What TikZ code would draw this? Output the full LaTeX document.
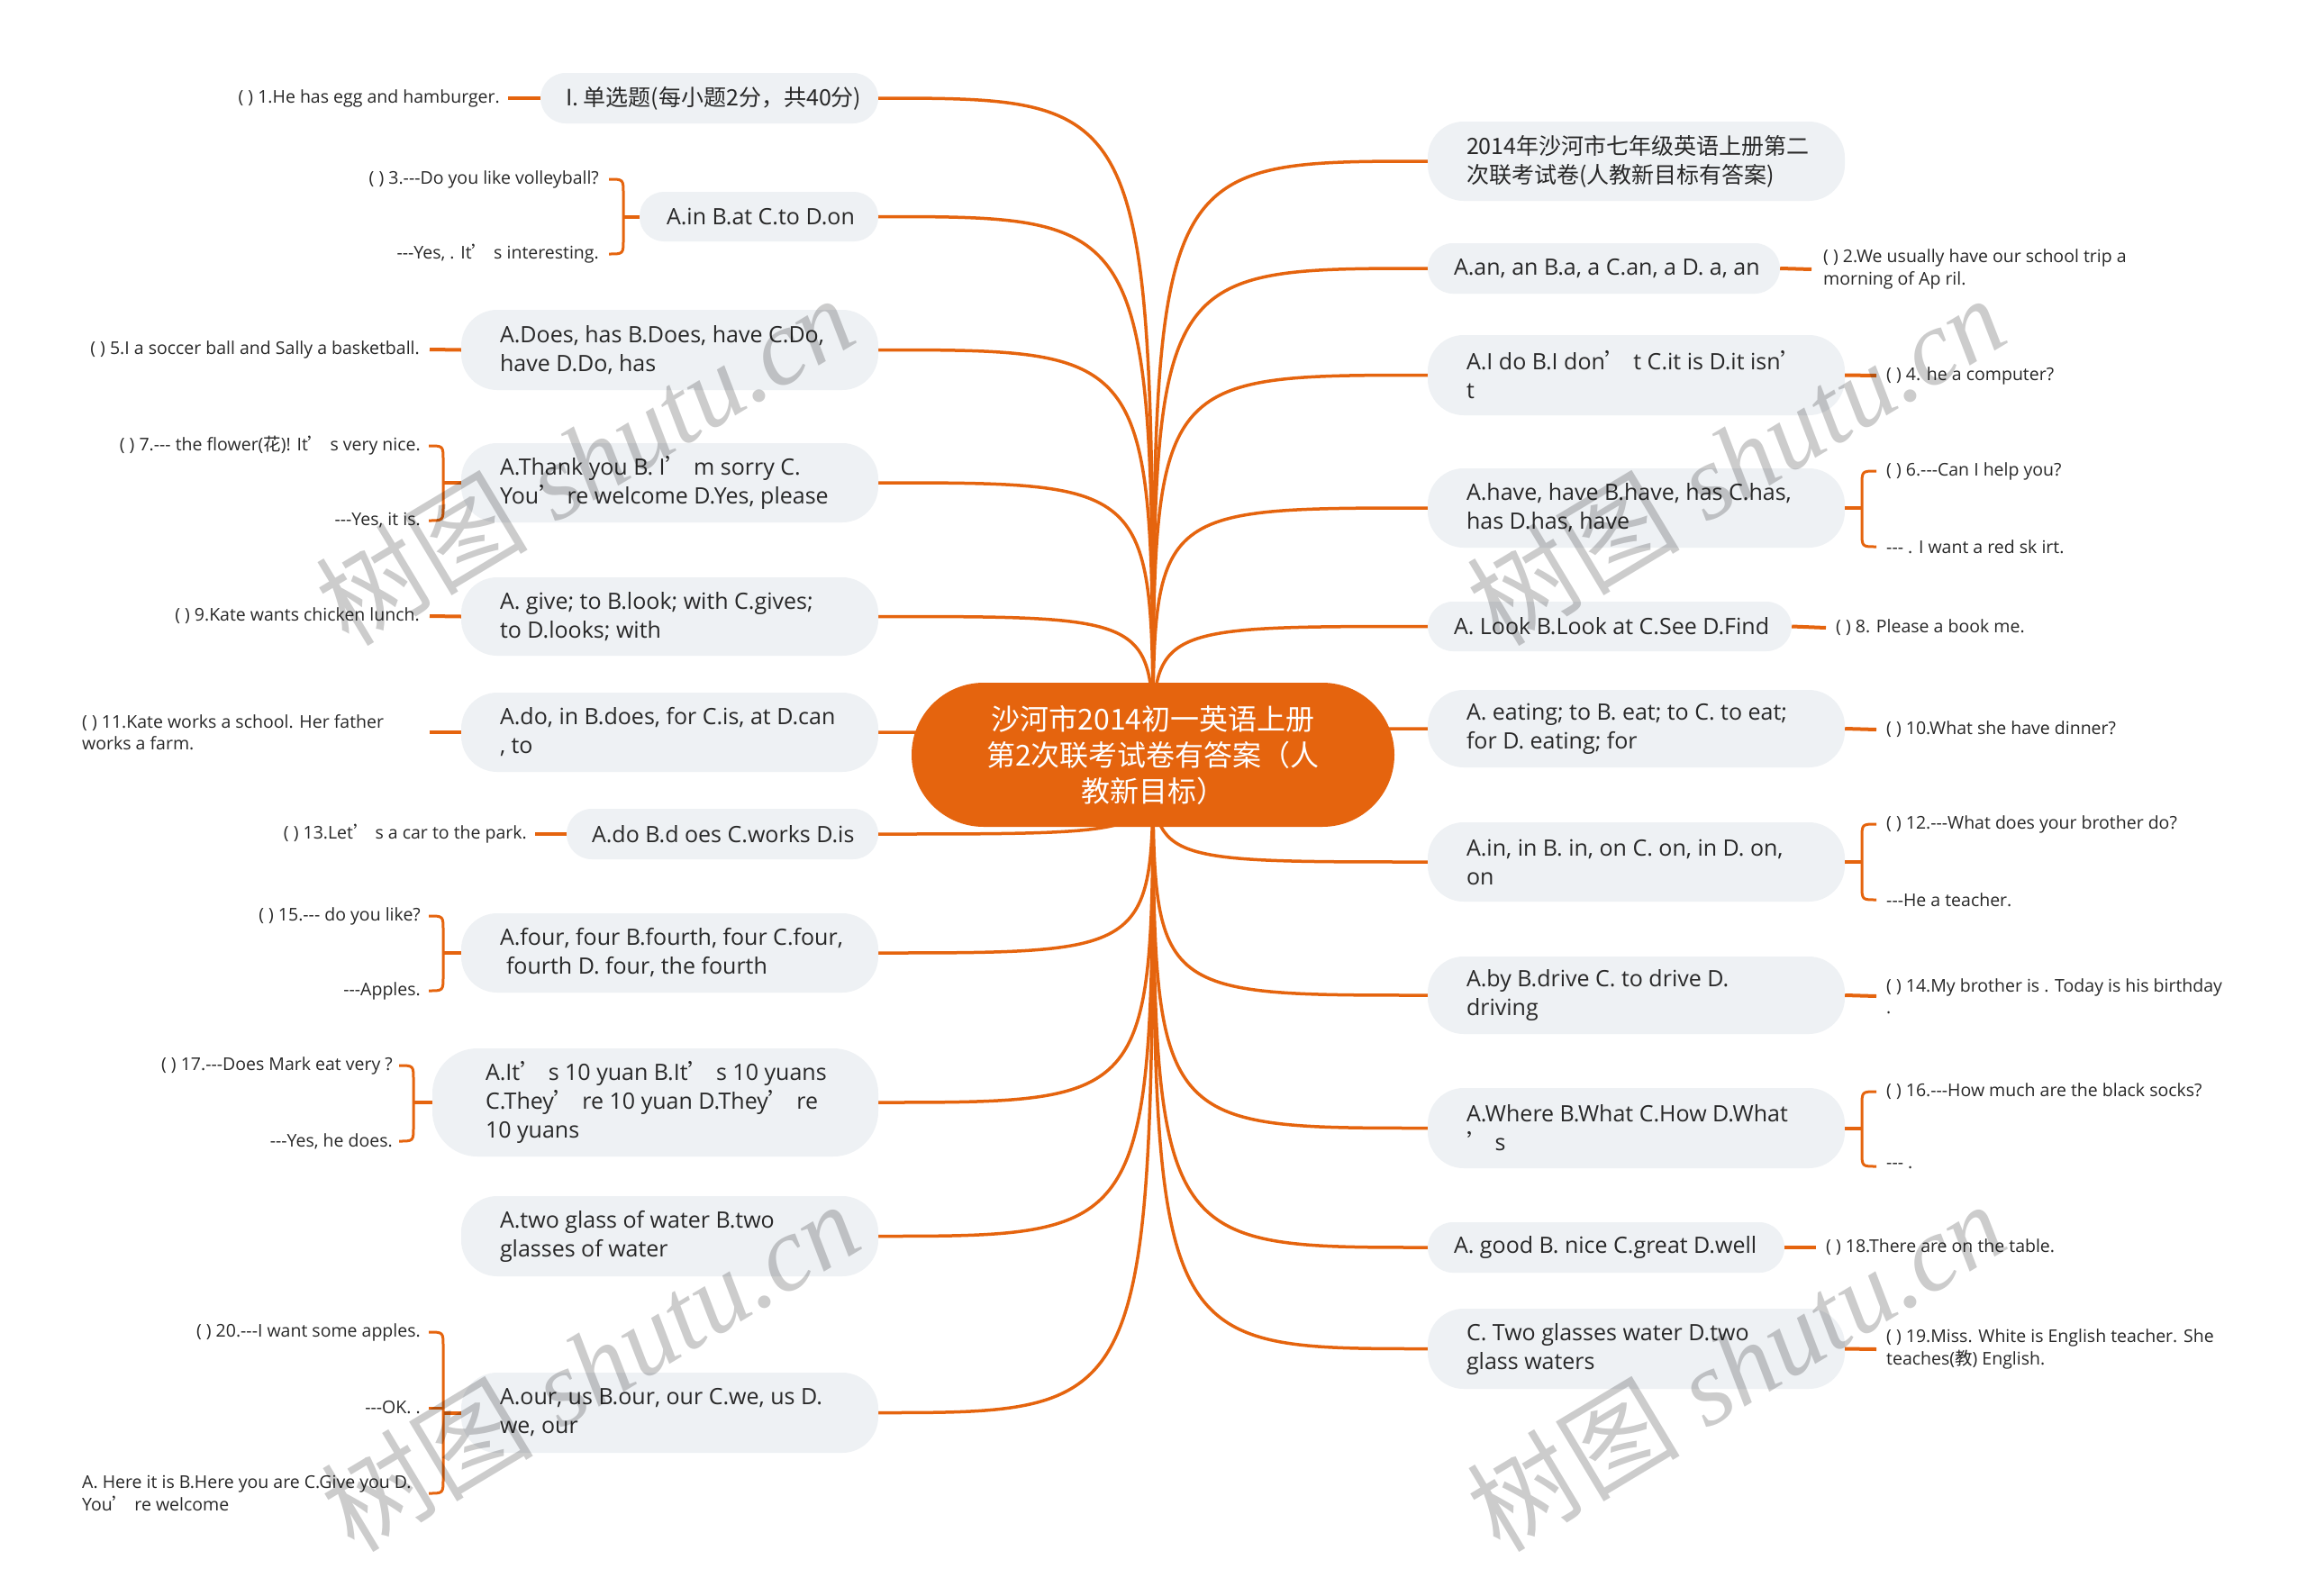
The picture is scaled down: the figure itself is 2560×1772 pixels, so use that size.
\documentclass[tikz,border=0pt]{standalone}
\usepackage{fontspec}
\setmainfont{Open Sans}
\newfontfamily\cjk{Noto Sans CJK SC}
\newfontfamily\wmserif{Liberation Serif}
\usetikzlibrary{calc}
\definecolor{org}{RGB}{229,100,14}
\definecolor{nfill}{RGB}{238,241,244}
\definecolor{tcol}{RGB}{40,40,40}
\newcommand{\apos}{{\cjk ’}}
\newcommand{\tdash}{-\kern0pt-\kern0pt-}
\pgfdeclarelayer{bg}\pgfdeclarelayer{fg}\pgfsetlayers{bg,main,fg}
\tikzset{
 box/.style={fill=nfill, draw=none, inner sep=0pt},
 btext/.style={font=\fontsize{25}{32}\selectfont, text=tcol, align=left, inner sep=0pt},
 leaf/.style={font=\fontsize{19.5}{24.5}\selectfont, text=tcol, align=left, inner sep=0pt},
 link/.style={draw=org, line width=3.5pt},
 brk/.style={draw=org, line width=3pt},
 stub/.style={draw=org, line width=4pt},
 wm/.style={text=black, text opacity=0.2, rotate=31, inner sep=0pt, font=\fontsize{118}{118}\selectfont},
}
% name, xl, xr, yt, yb, pad, radius, text
\newcommand{\bx}[8]{%
 \node[box, rounded corners=#7pt, minimum width={#3pt-#2pt}, minimum height={#5pt-#4pt}] (#1) at ({(#2+#3)/2},{(#4+#5)/2}) {};
 \node[btext, anchor=west] (#1t) at ([xshift=#6pt]#1.west) {#8};}
\newcommand{\brL}[4]{%
 \draw[brk] ([xshift=-16pt]#1 |- #2.east) .. controls (#1 |- #2.east) .. ([yshift=-16pt]#1 |- #2.east) -- ([yshift=16pt]#1 |- #3.east) .. controls (#1 |- #3.east) .. ([xshift=-16pt]#1 |- #3.east);
 \draw[stub] (#1 |- #4.west) -- (#4.west);}
\newcommand{\brR}[4]{%
 \draw[brk] ([xshift=16pt]#1 |- #2.west) .. controls (#1 |- #2.west) .. ([yshift=-16pt]#1 |- #2.west) -- ([yshift=16pt]#1 |- #3.west) .. controls (#1 |- #3.west) .. ([xshift=16pt]#1 |- #3.west);
 \draw[stub] (#4.east) -- (#1 |- #4.east);}
\begin{document}
\begin{tikzpicture}[x=1pt,y=-1pt]
\begin{pgfonlayer}{bg}
\fill[white] (0,0) rectangle (2560,1772);
\end{pgfonlayer}
\useasboundingbox (0,0) rectangle (2560,1772);

% centre
\node[fill=org, rounded corners=80pt, minimum width=536pt, minimum height=160pt, inner sep=0pt, text=white, align=center, font=\cjk\fontsize{32}{40}\selectfont] (C) at (1280,838) {沙河市2014初一英语上册\\第2次联考试卷有答案（人\\教新目标）};

% left branches
\bx{L1}{600}{975}{81}{137}{28}{28}{{\cjk I. 单选题(每小题2分，共40分)}}
\bx{L2}{710}{975}{213}{268}{30}{27}{A.in B.at C.to D.on}
\bx{L3}{512}{975}{344}{433}{43}{40}{A.Does, has B.Does, have C.Do,\\have D.Do, has}
\bx{L4}{512}{975}{492}{580}{43}{40}{A.Thank you B. I\apos{} m sorry C.\\You\apos{} re welcome D.Yes, please}
\bx{L5}{512}{975}{641}{728}{43}{40}{A. give; to B.look; with C.gives;\\to D.looks; with}
\bx{L6}{512}{975}{769}{857}{43}{40}{A.do, in B.does, for C.is, at D.can\\, to}
\bx{L7}{629}{975}{898}{954}{28}{28}{A.do B.d oes C.works D.is}
\bx{L8}{512}{975}{1014}{1102}{43}{40}{A.four, four B.fourth, four C.four,\\\hspace*{7pt}fourth D. four, the fourth}
\bx{L9}{480}{975}{1164}{1284}{59}{50}{A.It\apos{} s 10 yuan B.It\apos{} s 10 yuans\\C.They\apos{} re 10 yuan D.They\apos{} re\\10 yuans}
\bx{L10}{512}{975}{1328}{1417}{43}{40}{A.two glass of water B.two\\glasses of water}
\bx{L11}{512}{975}{1524}{1613}{43}{40}{A.our, us B.our, our C.we, us D.\\we, our}

% right branches
\bx{R1}{1585}{2048}{135}{223}{43}{40}{{\cjk 2014年沙河市七年级英语上册第二}\\{\cjk 次联考试卷(人教新目标有答案)}}
\bx{R2}{1585}{1976}{270}{326}{29}{28}{A.an, an B.a, a C.an, a D. a, an}
\bx{R3}{1585}{2048}{372}{461}{43}{40}{A.I do B.I don\apos{} t C.it is D.it isn\apos\\t}
\bx{R4}{1585}{2048}{520}{608}{43}{40}{A.have, have B.have, has C.has,\\has D.has, have}
\bx{R5}{1585}{1989}{668}{723}{29}{28}{A. Look B.Look at C.See D.Find}
\bx{R6}{1585}{2048}{766}{852}{43}{40}{A. eating; to B. eat; to C. to eat;\\for D. eating; for}
\bx{R7}{1585}{2048}{913}{1001}{43}{40}{A.in, in B. in, on C. on, in D. on,\\on}
\bx{R8}{1585}{2048}{1062}{1148}{43}{40}{A.by B.drive C. to drive D.\\driving}
\bx{R9}{1585}{2048}{1208}{1297}{43}{40}{A.Where B.What C.How D.What\\\apos{} s}
\bx{R10}{1585}{1981}{1357}{1413}{29}{28}{A. good B. nice C.great D.well}
\bx{R11}{1585}{2048}{1453}{1542}{43}{40}{C. Two glasses water D.two\\glass waters}

% links from centre
\begin{pgfonlayer}{bg}
\foreach \i in {1,...,11} {
 \draw[link] (C.center) .. controls (C.center |- L\i.east) .. (L\i.east);
 \draw[link] (C.center) .. controls (C.center |- R\i.west) .. (R\i.west);
}
\end{pgfonlayer}

% left leaves
\node[leaf, anchor=east] (q1) at (555,109) {( ) 1.He has egg and hamburger.};
\draw[stub] ([xshift=9pt]q1.east) -- (L1.west);

\coordinate (b2) at (692,241);
\node[leaf, anchor=east] (q3a) at (665,199) {( ) 3.\tdash Do you like volleyball?};
\node[leaf, anchor=east] (q3b) at (665,282) {\tdash Yes, . It\apos{} s interesting.};
\brL{b2}{q3a}{q3b}{L2}

\node[leaf, anchor=east] (q5) at (466,388) {( ) 5.I a soccer ball and Sally a basketball.};
\draw[stub] ([xshift=11pt]q5.east) -- (L3.west);

\coordinate (b4) at (492,536);
\node[leaf, anchor=east] (q7a) at (467,495) {( ) 7.\tdash{} the flower({\cjk 花})! It\apos{} s very nice.};
\node[leaf, anchor=east] (q7b) at (467,578) {\tdash Yes, it is.};
\brL{b4}{q7a}{q7b}{L4}

\node[leaf, anchor=east] (q9) at (466,684) {( ) 9.Kate wants chicken lunch.};
\draw[stub] ([xshift=11pt]q9.east) -- (L5.west);

\node[leaf, anchor=west] (q11) at (91,813) {( ) 11.Kate works a school. Her father\\works a farm.};
\draw[stub] ([xshift=-35pt]L6.west) -- (L6.west);

\node[leaf, anchor=east] (q13) at (585,926) {( ) 13.Let\apos{} s a car to the park.};
\draw[stub] ([xshift=9pt]q13.east) -- (L7.west);

\coordinate (b8) at (492,1058);
\node[leaf, anchor=east] (q15a) at (467,1017) {( ) 15.\tdash{} do you like?};
\node[leaf, anchor=east] (q15b) at (467,1100) {\tdash Apples.};
\brL{b8}{q15a}{q15b}{L8}

\coordinate (b9) at (459,1224);
\node[leaf, anchor=east] (q17a) at (436,1183) {( ) 17.\tdash Does Mark eat very ?};
\node[leaf, anchor=east] (q17b) at (436,1267) {\tdash Yes, he does.};
\brL{b9}{q17a}{q17b}{L9}

\coordinate (b11) at (492,1568);
\node[leaf, anchor=east] (q20a) at (467,1479) {( ) 20.\tdash I want some apples.};
\node[leaf, anchor=east] (q20b) at (467,1563) {\tdash OK. .};
\node[leaf, anchor=west] (q20c) at (91,1658) {A. Here it is B.Here you are C.Give you D.\\You\apos{} re welcome};
\brL{b11}{q20a}{q20c}{L11}
\draw[brk] ([xshift=-16pt]b11 |- q20b.east) -- (b11 |- q20b.east);

% right leaves
\node[leaf, anchor=west] (a2) at (2024,299) {( ) 2.We usually have our school trip a\\morning of Ap ril.};
\draw[stub] (R2.east) -- ([xshift=-13pt]a2.west);

\node[leaf, anchor=west] (a4) at (2094,417) {( ) 4. he a computer?};
\draw[stub] (R3.east) -- ([xshift=-11pt]a4.west);

\coordinate (bR4) at (2067,564);
\node[leaf, anchor=west] (a6a) at (2094,523) {( ) 6.\tdash Can I help you?};
\node[leaf, anchor=west] (a6b) at (2094,607) {\tdash{} . I want a red sk irt.};
\brR{bR4}{a6a}{a6b}{R4}

\node[leaf, anchor=west] (a8) at (2038,697) {( ) 8. Please a book me.};
\draw[stub] (R5.east) -- ([xshift=-11pt]a8.west);

\node[leaf, anchor=west] (a10) at (2094,810) {( ) 10.What she have dinner?};
\draw[stub] (R6.east) -- ([xshift=-11pt]a10.west);

\coordinate (bR7) at (2067,957);
\node[leaf, anchor=west] (a12a) at (2094,915) {( ) 12.\tdash What does your brother do?};
\node[leaf, anchor=west] (a12b) at (2094,999) {\tdash He a teacher.};
\brR{bR7}{a12a}{a12b}{R7}

\node[leaf, anchor=west] (a14) at (2094,1106) {( ) 14.My brother is . Today is his birthday\\.};
\draw[stub] (R8.east) -- ([xshift=-11pt]a14.west);

\coordinate (bR9) at (2067,1252);
\node[leaf, anchor=west] (a16a) at (2094,1212) {( ) 16.\tdash How much are the black socks?};
\node[leaf, anchor=west] (a16b) at (2094,1295) {\tdash{} .};
\brR{bR9}{a16a}{a16b}{R9}

\node[leaf, anchor=west] (a18) at (2027,1385) {( ) 18.There are on the table.};
\draw[stub] (R10.east) -- ([xshift=-11pt]a18.west);

\node[leaf, anchor=west] (a19) at (2094,1498) {( ) 19.Miss. White is English teacher. She\\teaches({\cjk 教}) English.};
\draw[stub] (R11.east) -- ([xshift=-11pt]a19.west);

% watermarks
\begin{pgfonlayer}{fg}
\node[wm] (w1) at (649,510) {{\cjk 树图} {\wmserif\itshape shutu.cn}};
\node[wm] (w2) at (1927,510) {{\cjk 树图} {\wmserif\itshape shutu.cn}};
\node[wm] (w3) at (655,1516) {{\cjk 树图} {\wmserif\itshape shutu.cn}};
\node[wm] (w4) at (1927,1516) {{\cjk 树图} {\wmserif\itshape shutu.cn}};
\end{pgfonlayer}
\end{tikzpicture}
\end{document}
